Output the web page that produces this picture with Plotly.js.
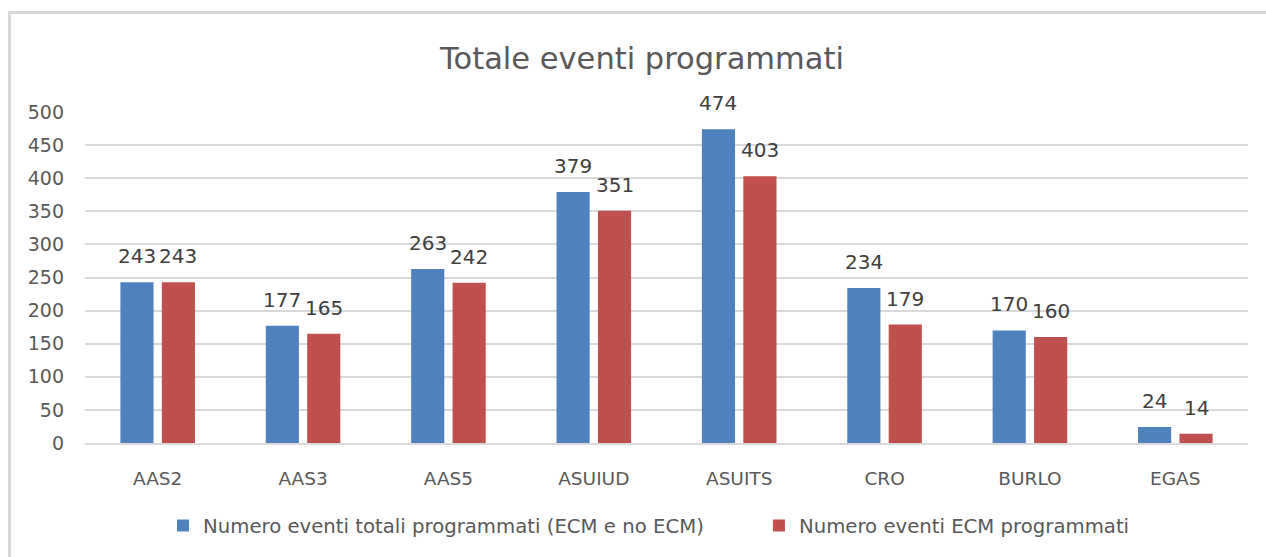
<!DOCTYPE html>
<html><head><meta charset="utf-8">
<script src="https://cdn.plot.ly/plotly-3.0.1.min.js"></script>
<style>
body{margin:0;padding:0;background:#fff;}
#wrap{position:relative;width:1266px;height:557px;overflow:hidden;}
#chart{position:absolute;left:0;top:0;width:1266px;height:557px;}
#frame{position:absolute;left:8px;top:11px;width:1300px;height:700px;border-left:3px solid #d9d9d9;border-top:3px solid #d9d9d9;pointer-events:none;}
</style></head>
<body><div id="wrap"><div id="chart"></div><div id="frame"></div></div>
<script>
const categories = ["AAS2","AAS3","AAS5","ASUIUD","ASUITS","CRO","BURLO","EGAS"];
const totalEvents = [243,177,263,379,474,234,170,24];
const ecmEvents = [243,165,242,351,403,179,160,14];
const seriesNames = ["Numero eventi totali programmati (ECM e no ECM)","Numero eventi ECM programmati"];
const yTicks = [0,50,100,150,200,250,300,350,400,450,500];

const font = "'DejaVu Sans', sans-serif";
const colors = ['#4F81BD','#C0504D'];
const legendPad = '\u00a0'.repeat(8);
const traces = [
 {type:'bar', x:categories, y:totalEvents, name:seriesNames[0] + legendPad, marker:{color:colors[0]}},
 {type:'bar', x:categories, y:ecmEvents, name:seriesNames[1], marker:{color:colors[1]}}
];
const annotations = [];
[totalEvents, ecmEvents].forEach((vals, si) => {
  vals.forEach((v, i) => {
    annotations.push({x:categories[i], y:v, xref:'x', yref:'y', text:String(v), showarrow:false,
      xshift: si === 0 ? -20.7 : 20.7, yanchor:'bottom', yshift:12,
      font:{size:20, color:'#404040', family:font}});
  });
});
const layout = {
 width:1266, height:557,
 margin:{l:85, r:18, t:112, b:110},
 paper_bgcolor:'#fff', plot_bgcolor:'#fff',
 font:{family:font, color:'#595959', size:18},
 title:{text:'Totale eventi programmati', font:{size:30.5,color:'#595959',family:font}, x:642/1266, xref:'container', xanchor:'center', y:1-58/557, yanchor:'middle', yref:'container'},
 barmode:'group', bargap:0.43, bargroupgap:0.2,
 showlegend:true,
 legend:{orientation:'h', x:(163-85)/1163, xanchor:'left', y:-0.25, yanchor:'middle', font:{size:19.7,color:'#595959',family:font}, itemwidth:30, traceorder:'normal'},
 annotations: annotations,
 xaxis:{type:'category', showgrid:false, showline:true, linecolor:'#d9d9d9', linewidth:2, ticks:'', tickfont:{size:18.5,color:'#595959'}, ticklabelstandoff:18},
 yaxis:{range:[0,500], tickvals:yTicks, ticktext:yTicks.map(String), showgrid:true, gridcolor:'#d9d9d9', gridwidth:2, zeroline:false, showline:false, ticks:'', tickfont:{size:19,color:'#595959'}, ticklabelstandoff:20, automargin:false}
};
Plotly.newPlot('chart', traces, layout, {displayModeBar:false, staticPlot:true});
</script></body></html>
